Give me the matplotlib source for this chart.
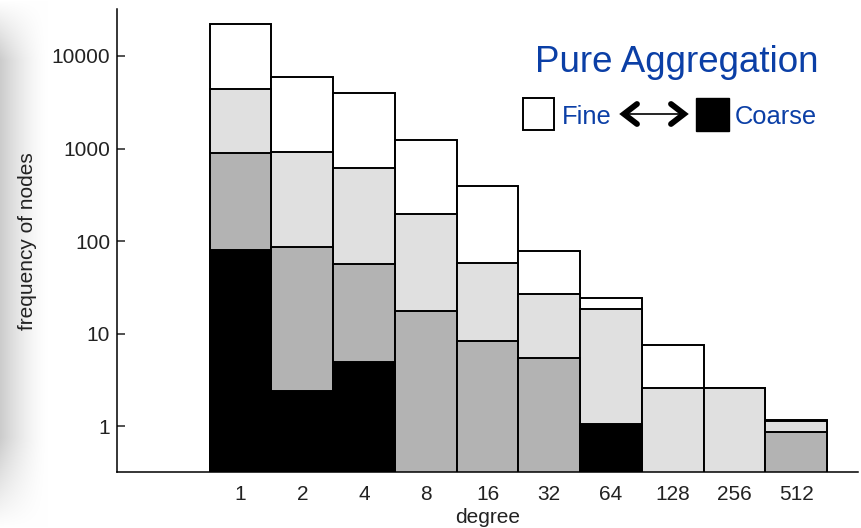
import numpy as np
import matplotlib.pyplot as plt
from matplotlib.patches import Rectangle
from matplotlib.lines import Line2D

plt.rcParams['font.family'] = ['Liberation Sans', 'DejaVu Sans']

# degree bins and node counts for each aggregation level (fine -> coarse)
degrees = ['1', '2', '4', '8', '16', '32', '64', '128', '256', '512']
fine = [22300, 5970, 4010, 1250, 398, 79, 24.4, 7.5, 2.57, 1.17]
level2 = [4430, 926, 622, 194, 58.6, 27, 18.3, 2.57, 2.57, 1.15]
level3 = [903, 86, 57, 17.5, 8.3, 5.4, np.nan, np.nan, np.nan, 0.87]
coarse = [81, 2.39, 5.0, np.nan, np.nan, np.nan, 1.07, np.nan, np.nan, np.nan]

levels = [fine, level2, level3, coarse]
colors = ['white', '#e0e0e0', '#b3b3b3', 'black']

W, H = 861, 528
fig = plt.figure(figsize=(W / 100, H / 100), dpi=100)

# soft shadow along the left edge
bg = fig.add_axes([0, 0, 1, 1], zorder=-5)
bg.axis('off')
xx = np.linspace(0, 1, W)
yy = np.linspace(0, 1, H)
gx = np.clip(1 - xx * W / 48, 0, 1) ** 1.5
gy = np.clip(yy * H / 60, 0, 1) * np.clip((H - yy * H) / 90, 0, 1)
shade = 0.2 * np.outer(gy, gx)
img = np.ones((H, W, 3)) * (1 - shade)[..., None]
bg.imshow(img, extent=[0, 1, 0, 1], aspect='auto', origin='upper')
bg.set_xlim(0, 1)
bg.set_ylim(0, 1)


def px(x, y):
    return x / W, 1 - y / H


ax = fig.add_axes([117 / W, (H - 472.3) / H, (858 - 117) / W, 463 / H])
x = np.arange(len(degrees))
for vals, c in zip(levels, colors):
    v = np.array(vals, dtype=float)
    ok = ~np.isnan(v)
    ax.bar(x[ok], v[ok] - 0.01, bottom=0.01, width=1.0, color=c,
           edgecolor='black', linewidth=1.4)

ax.set_yscale('log')
ax.set_ylim(0.318, 31900)
ax.set_xlim(-2, 10)
ax.set_yticks([1, 10, 100, 1000, 10000])
ax.set_yticklabels(['1', '10', '100', '1000', '10000'])
ax.minorticks_off()
ax.set_xticks(x)
ax.set_xticklabels(degrees)
ax.tick_params(axis='y', direction='in', length=6, width=1.1, pad=5,
               labelsize=15, colors='#222222')
ax.tick_params(axis='x', length=0, pad=9, labelsize=15, colors='#222222')
for s in ['top', 'right']:
    ax.spines[s].set_visible(False)
for s in ['left', 'bottom']:
    ax.spines[s].set_linewidth(1.1)
ax.set_xlabel('degree', fontsize=15, color='#222222', labelpad=3)
ax.set_ylabel('frequency of nodes', fontsize=15, color='#222222')
ax.yaxis.set_label_coords((37 - 117) / (858 - 117), 0.5)

# title and fine/coarse key
blue = '#0b3fa6'
fig.text(*px(535, 72), 'Pure Aggregation', fontsize=26.5, color=blue,
         ha='left', va='baseline')
fig.text(*px(562, 124), 'Fine', fontsize=18.4, color=blue,
         ha='left', va='baseline')
fig.text(*px(735, 124), 'Coarse', fontsize=18.4, color=blue,
         ha='left', va='baseline')
fig.patches.append(Rectangle(px(523, 130), 31 / W, 32 / H, facecolor='white',
                             edgecolor='black', linewidth=1.4,
                             transform=fig.transFigure))
fig.patches.append(Rectangle(px(696, 131), 33 / W, 33 / H, facecolor='black',
                             edgecolor='black', linewidth=1,
                             transform=fig.transFigure))
shaft = Line2D([624 / W, 684 / W], [1 - 114 / H, 1 - 114 / H], color='black',
               linewidth=1.2, transform=fig.transFigure)
fig.lines.append(shaft)
for tip, back in [(624, 637), (684, 671)]:
    fig.lines.append(Line2D([back / W, tip / W, back / W],
                            [1 - 104 / H, 1 - 114 / H, 1 - 124 / H],
                            color='black', linewidth=4.2,
                            solid_capstyle='round', solid_joinstyle='miter',
                            transform=fig.transFigure))

fig.savefig('out.png', dpi=100)
